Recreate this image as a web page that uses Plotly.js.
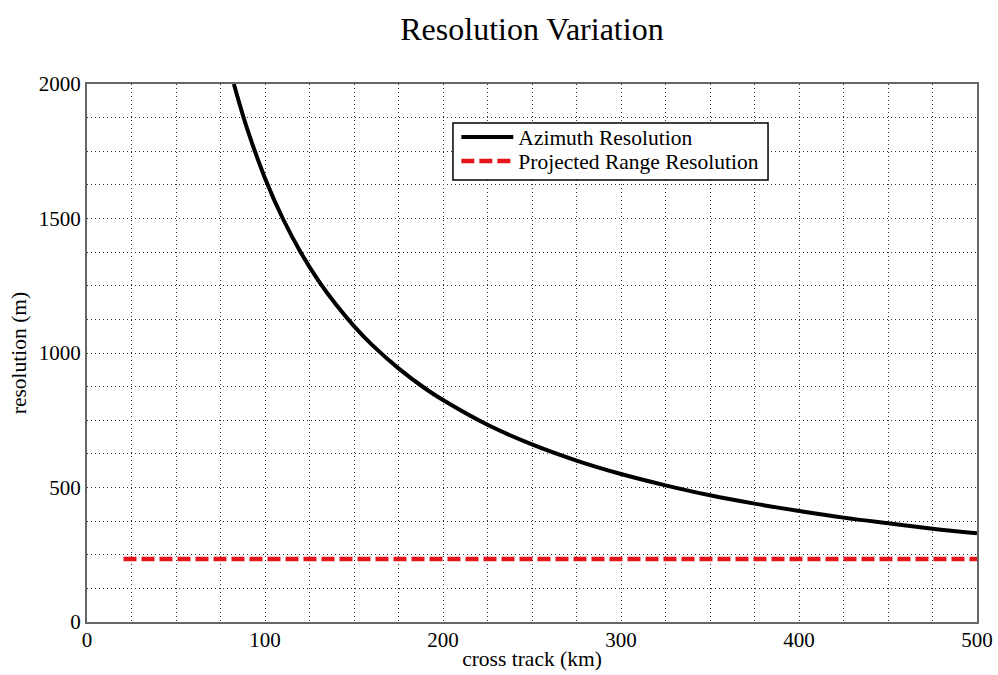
<!DOCTYPE html>
<html>
<head>
<meta charset="utf-8">
<script src="https://cdn.plot.ly/plotly-3.0.1.min.js"></script>
<style>html,body{margin:0;padding:0;background:#fff;}#chart{width:998px;height:675px;}</style>
</head>
<body>
<div id="chart"></div>
<script>
const azimuthX = [82.5, 90, 100, 110, 120, 130, 140, 150, 160, 175, 190, 200, 225, 250, 275, 300, 325, 350, 375, 400, 425, 450, 475, 500];
const azimuthY = [2000, 1833, 1650, 1500, 1375, 1269, 1179, 1100, 1031, 943, 868, 825, 733, 660, 600, 550, 508, 471, 440, 413, 388, 367, 347, 330];
const rangeX = [20.5, 500];
const rangeY = [234, 234];
const xTicks = [0, 100, 200, 300, 400, 500];
const yTicks = [0, 500, 1000, 1500, 2000];

const font = "'Liberation Serif', 'Times New Roman', serif";
const traces = [
  {x: azimuthX, y: azimuthY, mode: 'lines', name: 'Azimuth Resolution', legend: 'legend', line: {color: '#000', width: 4, shape: 'spline'}},
  {x: rangeX, y: rangeY, mode: 'lines', name: 'Projected Range Resolution', legend: 'legend2', line: {color: '#e8141b', width: 4.5, dash: '13px,5px'}}
];
const gridCommon = {gridcolor: '#333', griddash: '1px,3px', gridwidth: 1};
const legendCommon = {xanchor: 'left', yanchor: 'middle', bgcolor: 'rgba(0,0,0,0)', borderwidth: 0,
  font: {family: font, size: 21.5, color: '#000'}, itemwidth: 52};
const layout = {
  width: 998, height: 675,
  margin: {l: 87, r: 21, t: 84, b: 53},
  paper_bgcolor: '#fff', plot_bgcolor: '#fff',
  font: {family: font, size: 21, color: '#000'},
  title: {text: 'Resolution Variation', font: {family: font, size: 32, color: '#000'}, x: 0.533, xanchor: 'center', y: 0.958, yanchor: 'middle'},
  xaxis: Object.assign({
    range: [0, 500], tickvals: xTicks, ticks: '', showline: true, mirror: true, linecolor: '#666', linewidth: 2,
    zeroline: false, showgrid: true, ticklabelstandoff: -2,
    title: {text: 'cross track (km)', font: {family: font, size: 21.5}, standoff: 0},
    minor: {dtick: 25, showgrid: true, gridcolor: '#333', griddash: '1px,3px', gridwidth: 1}
  }, gridCommon),
  yaxis: Object.assign({
    range: [0, 2000], tickvals: yTicks, ticks: '', showline: true, mirror: true, linecolor: '#666', linewidth: 2,
    zeroline: false, showgrid: true,
    title: {text: 'resolution (m)', font: {family: font, size: 21.5}, standoff: 6},
    minor: {dtick: 125, showgrid: true, gridcolor: '#333', griddash: '1px,3px', gridwidth: 1}
  }, gridCommon),
  legend: Object.assign({x: 0.415, y: 0.9015}, legendCommon),
  legend2: Object.assign({x: 0.415, y: 0.8569}, legendCommon),
  shapes: [{type: 'rect', xref: 'paper', yref: 'paper', x0: 0.4112, x1: 0.7652, y0: 0.8216, y1: 0.9275,
    fillcolor: '#fff', line: {color: '#000', width: 1.5}, layer: 'above'}],
  showlegend: true
};
Plotly.newPlot('chart', traces, layout, {displayModeBar: false, staticPlot: true});
</script>
</body>
</html>
